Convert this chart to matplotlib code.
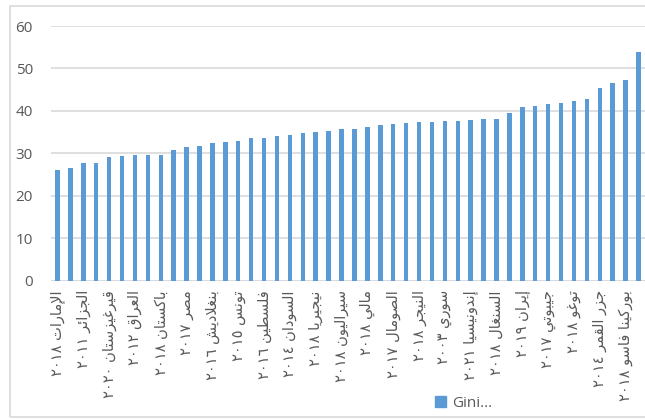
import numpy as np
import matplotlib.pyplot as plt
from matplotlib.patches import Patch, Rectangle

# Gini index, sorted ascending; only every second category carries a label
gini = [26.0, 26.6, 27.6, 27.8, 29.0, 29.3, 29.5, 29.6, 29.6, 30.7,
        31.5, 31.8, 32.4, 32.6, 32.8, 33.7, 33.7, 34.0, 34.2, 34.8,
        35.1, 35.3, 35.7, 35.8, 36.1, 36.6, 36.8, 37.1, 37.3, 37.4,
        37.5, 37.7, 37.9, 38.0, 38.1, 39.5, 40.9, 41.1, 41.6, 41.8,
        42.4, 42.7, 45.3, 46.5, 47.3, 53.9]
labels = ['الإمارات ٢٠١٨', 'الجزائر ٢٠١١', 'قيرغيزستان ٢٠٢٠', 'العراق ٢٠١٢',
          'باكستان ٢٠١٨', 'مصر ٢٠١٧', 'بنغلاديش ٢٠١٦', 'تونس ٢٠١٥',
          'فلسطين ٢٠١٦', 'السودان ٢٠١٤', 'نيجيريا ٢٠١٨', 'سيراليون ٢٠١٨',
          'مالي ٢٠١٨', 'الصومال ٢٠١٧', 'النيجر ٢٠١٨', 'سوري ٢٠٠٣',
          'إندونيسيا ٢٠٢١', 'السنغال ٢٠١٨', 'إيران ٢٠١٩', 'جيبوتي ٢٠١٧',
          'توغو ٢٠١٨', 'جزر القمر ٢٠١٤', 'بوركينا فاسو ٢٠١٨']
series_name = 'Gini...'
yticks = [0, 10, 20, 30, 40, 50, 60]

# matplotlib does no arabic shaping, so map letters to presentation forms
# (isolated, final, initial, medial)
FORMS = {
    'ا': (0xFE8D, 0xFE8E, None, None), 'إ': (0xFE87, 0xFE88, None, None),
    'أ': (0xFE83, 0xFE84, None, None), 'د': (0xFEA9, 0xFEAA, None, None),
    'ر': (0xFEAD, 0xFEAE, None, None), 'ز': (0xFEAF, 0xFEB0, None, None),
    'و': (0xFEED, 0xFEEE, None, None),
    'ب': (0xFE8F, 0xFE90, 0xFE91, 0xFE92), 'ت': (0xFE95, 0xFE96, 0xFE97, 0xFE98),
    'ج': (0xFE9D, 0xFE9E, 0xFE9F, 0xFEA0), 'س': (0xFEB1, 0xFEB2, 0xFEB3, 0xFEB4),
    'ش': (0xFEB5, 0xFEB6, 0xFEB7, 0xFEB8), 'ص': (0xFEB9, 0xFEBA, 0xFEBB, 0xFEBC),
    'ط': (0xFEC1, 0xFEC2, 0xFEC3, 0xFEC4), 'ع': (0xFEC9, 0xFECA, 0xFECB, 0xFECC),
    'غ': (0xFECD, 0xFECE, 0xFECF, 0xFED0), 'ف': (0xFED1, 0xFED2, 0xFED3, 0xFED4),
    'ق': (0xFED5, 0xFED6, 0xFED7, 0xFED8), 'ك': (0xFED9, 0xFEDA, 0xFEDB, 0xFEDC),
    'ل': (0xFEDD, 0xFEDE, 0xFEDF, 0xFEE0), 'م': (0xFEE1, 0xFEE2, 0xFEE3, 0xFEE4),
    'ن': (0xFEE5, 0xFEE6, 0xFEE7, 0xFEE8), 'ه': (0xFEE9, 0xFEEA, 0xFEEB, 0xFEEC),
    'ي': (0xFEF1, 0xFEF2, 0xFEF3, 0xFEF4), 'ئ': (0xFE89, 0xFE8A, 0xFE8B, 0xFE8C),
}
LAM_ALEF = {'ا': (0xFEFB, 0xFEFC), 'إ': (0xFEF9, 0xFEFA), 'أ': (0xFEF7, 0xFEF8)}


def shape(text):
    out = []
    prev_joins = False
    i = 0
    while i < len(text):
        c = text[i]
        if c == 'ل' and i + 1 < len(text) and text[i + 1] in LAM_ALEF:
            iso, fin = LAM_ALEF[text[i + 1]]
            out.append(chr(fin if prev_joins else iso))
            prev_joins = False
            i += 2
            continue
        forms = FORMS.get(c)
        if forms is None:
            out.append(c)
            prev_joins = False
            i += 1
            continue
        next_joins = forms[2] is not None and i + 1 < len(text) and text[i + 1] in FORMS
        if prev_joins and next_joins:
            f = forms[3]
        elif prev_joins:
            f = forms[1]
        elif next_joins:
            f = forms[2]
        else:
            f = forms[0]
        out.append(chr(f))
        prev_joins = next_joins
        i += 1
    return ''.join(out)


def visual(label):
    name, year = label.rsplit(' ', 1)
    return year + ' ' + shape(name)[::-1]


blue = '#5B9BD5'
grey = '#595959'
grid = '#D9D9D9'

fig = plt.figure(figsize=(6.45, 4.19), dpi=100)
ax = fig.add_axes([51 / 645, 1 - 280.5 / 419, 594 / 645, 254.5 / 419])

x = np.arange(len(gini))
ax.bar(x, gini, width=0.35, color=blue, zorder=2)
ax.set_xlim(-0.5, len(gini) - 0.5)
ax.set_ylim(0, 60)
ax.set_yticks(yticks)
ax.yaxis.grid(True, color=grid, linewidth=1.2, zorder=0)
ax.set_axisbelow(True)
for s in ax.spines.values():
    s.set_visible(False)
ax.axhline(0, color=grid, linewidth=1.2, zorder=1)

ax.tick_params(axis='y', length=0, pad=13, labelsize=11, labelcolor=grey)
for t in ax.get_yticklabels():
    t.set_family('Open Sans')
ax.set_xticks(x[::2])
ax.set_xticklabels([visual(l) for l in labels], rotation=90,
                   fontsize=10.5, color=grey, family='DejaVu Sans')
ax.tick_params(axis='x', length=0, pad=7)

fig.legend(handles=[Patch(color=blue)], labels=[series_name],
           loc='center left', bbox_to_anchor=(435 / 645, 1 - 403 / 419),
           frameon=False, handlelength=0.75, handleheight=0.75,
           handletextpad=0.35, borderpad=0, borderaxespad=0,
           prop={'family': 'Open Sans', 'size': 11}, labelcolor=grey)

# light frame round the chart area
fig.patches.append(Rectangle((10 / 645, 2 / 419), 0.99, 411 / 419,
                             transform=fig.transFigure, fill=False,
                             edgecolor=grid, linewidth=1.2))

fig.savefig('out.png', dpi=100)
